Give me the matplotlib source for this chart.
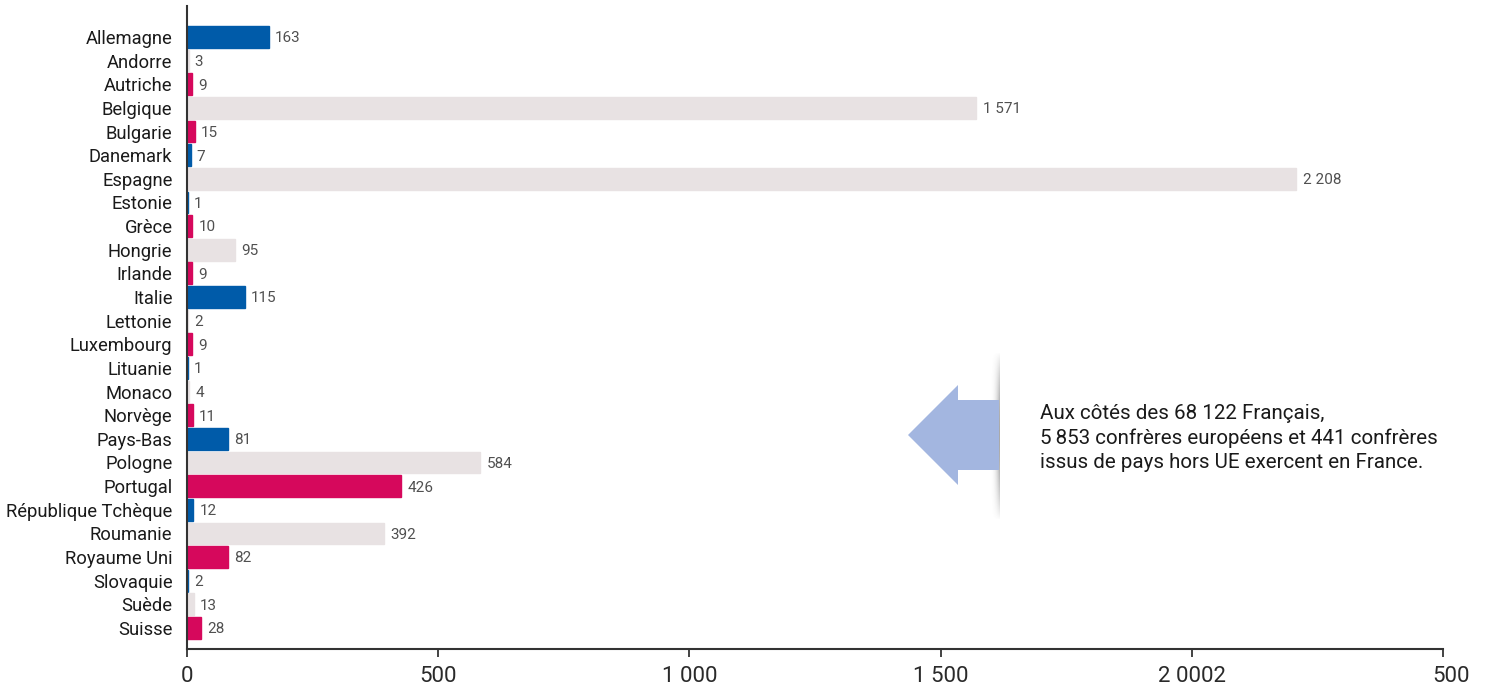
import numpy as np
import matplotlib
matplotlib.use("Agg")
import matplotlib.pyplot as plt
from matplotlib.patches import Polygon
from matplotlib.transforms import ScaledTranslation

plt.rcParams['font.family'] = ['Roboto', 'DejaVu Sans']

# donnees : confreres europeens par pays
pays = ["Allemagne", "Andorre", "Autriche", "Belgique", "Bulgarie", "Danemark",
        "Espagne", "Estonie", "Grèce", "Hongrie", "Irlande", "Italie", "Lettonie",
        "Luxembourg", "Lituanie", "Monaco", "Norvège", "Pays-Bas", "Pologne",
        "Portugal", "République Tchèque", "Roumanie", "Royaume Uni", "Slovaquie",
        "Suède", "Suisse"]
effectifs = [163, 3, 9, 1571, 15, 7, 2208, 1, 10, 95, 9, 115, 2, 9, 1, 4, 11,
             81, 584, 426, 12, 392, 82, 2, 13, 28]
groupe = ["b", "g", "r", "g", "r", "b", "g", "b", "r", "g", "r", "b", "g",
          "r", "b", "g", "r", "b", "g", "r", "b", "g", "r", "b", "g", "r"]
graduations = [0, 500, 1000, 1500, 2000, 2500]
etiquettes_x = ["0", "500", "1 000", "1 500", "2 0002", "500"]
note = ("Aux côtés des 68 122 Français,\n"
        "5\u2009853 confrères européens et 441 confrères\n"
        "issus de pays hors UE exercent en France.")

couleurs = {"b": "#005BA9", "r": "#D6085C", "g": "#E8E2E3"}
W, H = 1489, 691

fig = plt.figure(figsize=(W / 100, H / 100), dpi=100)
ax = fig.add_axes([187 / W, 1 - 649 / H, (1443 - 187) / W, (649 - 6) / H])

y = np.arange(len(pays))
cols = [couleurs[g] for g in groupe]
ax.barh(y, effectifs, height=0.92, color=cols, edgecolor=cols, linewidth=1.0)

for yi, v in zip(y, effectifs):
    ax.annotate(f"{v:,}".replace(",", " "), (v, yi), xytext=(4.5, -1),
                textcoords="offset points", va="center", ha="left",
                fontsize=11, color="#505050")

ax.set_xlim(0, 2500)
ax.set_ylim(25.89, -1.31)
ax.set_yticks(y)
ax.set_yticklabels(pays, fontsize=13.2, color="#1a1a1a")
ax.set_xticks(graduations)
ax.set_xticklabels(etiquettes_x, fontsize=16, color="#2a2a2a")
ax.tick_params(axis="y", length=0, pad=10.5)
ax.tick_params(axis="x", length=6, width=1.2, color="#222222", pad=6)
for s in ["top", "right"]:
    ax.spines[s].set_visible(False)
for s in ["left", "bottom"]:
    ax.spines[s].set_color("#333333")
    ax.spines[s].set_linewidth(1.5)
lab = ax.get_xticklabels()[-1]
lab.set_transform(lab.get_transform() + ScaledTranslation(0.08, 0, fig.dpi_scale_trans))


def px(x, yy):
    return (x / W, 1 - yy / H)


# ombre verticale derriere la fleche
hh, ww = 168, 12
gy = np.linspace(0, 1, hh)
gx = np.linspace(0, 1, ww)
alpha = np.outer(np.sin(np.pi * gy) ** 0.8, gx ** 2.5) * 0.6
alpha[:, -1] = 0
img = np.zeros((hh, ww, 4))
img[..., :3] = 0.3
img[..., 3] = alpha
fig.figimage(img, xo=989, yo=H - 520, origin="upper", zorder=0.5)

# fleche
fleche = [px(908, 435), px(958, 385), px(958, 400), px(999, 400),
          px(999, 470), px(958, 470), px(958, 485)]
fig.patches.append(Polygon(fleche, closed=True, transform=fig.transFigure,
                           facecolor="#A3B6E0", edgecolor="none", zorder=1))

fig.text(1040 / W, 1 - 438 / H, note, ha="left", va="center", fontsize=14.8,
         color="#1a1a1a", linespacing=1.32)

fig.savefig("out.png", dpi=100)
